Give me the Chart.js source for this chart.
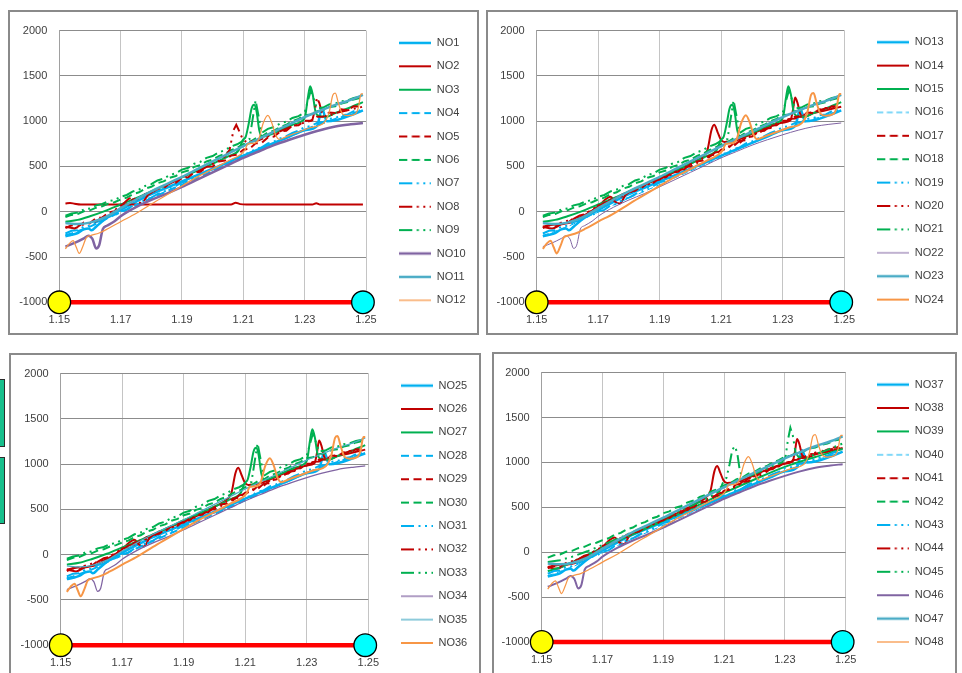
<!DOCTYPE html>
<html>
<head>
<meta charset="utf-8">
<script src="https://cdn.jsdelivr.net/npm/chart.js@4.4.1/dist/chart.umd.min.js"></script>
<style>
  html, body { margin: 0; padding: 0; background: #fff; width: 962px; height: 673px; overflow: hidden; position: relative; }
  .frame { position: absolute; border: 2px solid #8a8a8a; box-sizing: border-box; background: #fff; }
  canvas { position: absolute; }
  .tab { position: absolute; left: -3px; width: 8px; background: #17bf8c; border: 1px solid #2b2b2b; box-sizing: border-box; }
</style>
</head>
<body>
<div class="tab" style="top:379px;height:68px"></div>
<div class="tab" style="top:457px;height:67px"></div>

<div class="frame" style="left:8px;top:10px;width:471px;height:325px"></div>
<div class="frame" style="left:486px;top:10px;width:472px;height:325px"></div>
<div class="frame" style="left:9px;top:353px;width:472px;height:330px"></div>
<div class="frame" style="left:492px;top:352px;width:465px;height:330px"></div>

<canvas id="c1" width="467" height="320" style="left:10px;top:12px"></canvas>
<canvas id="c2" width="467" height="321" style="left:488px;top:12px"></canvas>
<canvas id="c3" width="468" height="318" style="left:11px;top:355px"></canvas>
<canvas id="c4" width="461" height="319" style="left:494px;top:354px"></canvas>

<script>
// ---- axis ticks ----
const xTicks = [1.15, 1.17, 1.19, 1.21, 1.23, 1.25];
const yTicks = [-1000, -500, 0, 500, 1000, 1500, 2000];

// ---- shared sampling grid for the noisy traces ----
const xGrid = [1.152, 1.154, 1.156, 1.158, 1.160, 1.162, 1.164, 1.166, 1.168, 1.170,
               1.172, 1.174, 1.176, 1.178, 1.180, 1.182, 1.184, 1.186, 1.188, 1.190,
               1.192, 1.194, 1.196, 1.198, 1.200, 1.202, 1.204, 1.206, 1.208, 1.210,
               1.212, 1.214, 1.216, 1.218, 1.220, 1.222, 1.224, 1.226, 1.228, 1.230,
               1.232, 1.234, 1.236, 1.238, 1.240, 1.242, 1.244, 1.246, 1.248];

// ---- traces sampled on xGrid ----
const greenDotVals = [-45, -20, -10, 25, 35, 70, 85, 115, 130, 165, 185, 225, 245, 285, 305, 345, 365, 405, 425, 465,
                      485, 530, 550, 595, 615, 655, 680, 720, 745, 785, 800, 1230, 870, 915, 935, 975, 995, 1035, 1055, 1095,
                      1340, 1140, 1150, 1185, 1195, 1220, 1230, 1255, 1270];
const greenDashVals = [-60, -35, -25, 5, 15, 45, 60, 90, 105, 135, 155, 195, 215, 255, 275, 315, 335, 375, 395, 435,
                       455, 495, 515, 555, 575, 615, 640, 680, 705, 745, 765, 810, 830, 875, 895, 935, 960, 1000, 1025, 1065,
                       1075, 1110, 1120, 1155, 1165, 1195, 1210, 1240, 1255];
const redDashVals = [-180, -150, -165, -120, -125, -70, -65, -10, 5, 70, 80, 135, 140, 195, 200, 255, 260, 315, 320, 375,
                     380, 435, 440, 495, 500, 555, 565, 620, 630, 685, 695, 755, 760, 820, 830, 885, 895, 950, 955, 1005,
                     1005, 1050, 1050, 1095, 1090, 1130, 1120, 1165, 1160];
const redDotVals = [-165, -150, -140, -125, -100, -80, -40, -25, 30, 55, 100, 115, 160, 170, 220, 230, 280, 295, 340, 355,
                    400, 410, 465, 470, 525, 535, 590, 600, 655, 665, 720, 725, 785, 790, 850, 860, 915, 925, 975, 985,
                    1025, 1030, 1070, 1075, 1110, 1110, 1145, 1150, 1180];
const blueDotVals = [-240, -210, -205, -165, -155, -115, -100, -55, -40, 5, 20, 70, 85, 135, 155, 195, 220, 260, 285, 325,
                     340, 385, 400, 445, 465, 505, 530, 570, 595, 635, 650, 695, 710, 755, 775, 810, 835, 870, 895, 935,
                     945, 980, 990, 1025, 1035, 1065, 1075, 1110, 1120];
const blueDashVals = [-260, -240, -215, -190, -165, -135, -100, -65, -35, -5, 25, 60, 90, 120, 150, 180, 210, 240, 270, 300,
                      330, 360, 390, 420, 450, 480, 510, 540, 570, 600, 630, 665, 695, 725, 755, 785, 815, 845, 875, 905,
                      930, 955, 980, 1000, 1025, 1045, 1065, 1090, 1110];

// ---- smooth traces, [x, y] pairs ----
const blueSolid = [[1.152,-270],[1.154,-255],[1.156,-235],[1.158,-195],[1.1595,-185],[1.1605,-205],[1.162,-165],[1.165,-80],
  [1.170,20],[1.175,110],[1.180,195],[1.185,265],[1.190,335],[1.195,405],[1.200,475],[1.205,545],[1.210,620],[1.215,690],
  [1.220,760],[1.225,830],[1.230,900],[1.234,945],[1.2357,1135],[1.2372,1000],[1.240,1010],[1.245,1065],[1.249,1120]];
const redFlat = [[1.152,90],[1.1535,97],[1.155,88],[1.157,80],[1.206,80],[1.2075,100],[1.209,84],[1.211,80],
  [1.2325,80],[1.2338,95],[1.235,80],[1.249,80]];
const redPeak = [[1.152,-165],[1.155,-185],[1.158,-140],[1.161,-120],[1.165,-50],[1.170,60],[1.1725,140],[1.174,165],
  [1.1755,110],[1.177,90],[1.179,190],[1.182,250],[1.186,310],[1.190,370],[1.195,440],[1.200,530],[1.204,610],[1.2055,680],
  [1.2068,900],[1.2077,960],[1.2088,880],[1.2098,800],[1.211,770],[1.215,790],[1.220,860],[1.225,930],[1.230,985],
  [1.2325,1010],[1.2333,1120],[1.2340,1260],[1.2348,1200],[1.2358,1070],[1.2372,1050],[1.240,1090],[1.244,1120],[1.249,1160]];
const greenPeak = [[1.152,-110],[1.156,-90],[1.160,-50],[1.165,10],[1.170,80],[1.175,150],[1.180,225],[1.185,300],
  [1.190,380],[1.195,455],[1.200,530],[1.205,610],[1.2085,680],[1.2098,790],[1.2108,830],[1.2118,980],[1.2127,1140],
  [1.2135,1180],[1.2143,1110],[1.2152,900],[1.2162,830],[1.218,840],[1.222,900],[1.226,960],[1.229,1000],[1.2302,1060],
  [1.2310,1250],[1.2318,1385],[1.2326,1300],[1.2335,1110],[1.2345,1060],[1.237,1050],[1.240,1090],[1.244,1140],[1.249,1210]];
const greenPlain = [[1.152,-210],[1.156,-170],[1.160,-110],[1.165,-30],[1.170,50],[1.180,200],[1.190,350],[1.200,500],
  [1.210,660],[1.220,810],[1.230,950],[1.240,1060],[1.249,1150]];
const teal = [[1.152,-125],[1.156,-135],[1.160,-120],[1.165,-60],[1.170,40],[1.175,135],[1.180,225],[1.185,305],
  [1.190,385],[1.195,470],[1.200,555],[1.205,640],[1.210,725],[1.215,805],[1.220,885],[1.225,965],[1.230,1045],
  [1.235,1115],[1.240,1180],[1.245,1235],[1.249,1290]];
const purple = [[1.152,-385],[1.155,-345],[1.158,-295],[1.1595,-265],[1.1608,-300],[1.1620,-405],[1.1630,-370],
  [1.1642,-190],[1.1655,-155],[1.168,-105],[1.170,-50],[1.175,50],[1.180,130],[1.185,200],[1.190,275],[1.195,355],
  [1.200,435],[1.205,515],[1.210,595],[1.215,665],[1.220,735],[1.225,795],[1.230,850],[1.235,900],[1.240,940],
  [1.245,965],[1.249,980]];
const orange = [[1.152,-410],[1.1533,-350],[1.1545,-320],[1.1555,-390],[1.1565,-460],[1.1577,-380],[1.1588,-285],
  [1.160,-265],[1.163,-235],[1.166,-185],[1.170,-110],[1.175,-20],[1.180,85],[1.185,185],[1.190,285],[1.195,385],
  [1.200,470],[1.205,560],[1.209,630],[1.2105,680],[1.2115,750],[1.2135,755],[1.2150,800],[1.2165,980],[1.2180,1065],
  [1.2193,980],[1.2205,850],[1.2217,800],[1.224,830],[1.228,880],[1.232,930],[1.2365,990],[1.2380,1100],[1.2392,1290],
  [1.2400,1310],[1.2410,1200],[1.2423,1080],[1.2440,1060],[1.2465,1080],[1.2475,1150],[1.2484,1300],[1.249,1300]];

// ---- red baseline with its two end markers ----
const baseX = [1.15, 1.249];
const baseY = [-1000, -1000];

// ---- legend labels per chart ----
const labelsA = ['NO1','NO2','NO3','NO4','NO5','NO6','NO7','NO8','NO9','NO10','NO11','NO12'];
const labelsB = ['NO13','NO14','NO15','NO16','NO17','NO18','NO19','NO20','NO21','NO22','NO23','NO24'];
const labelsC = ['NO25','NO26','NO27','NO28','NO29','NO30','NO31','NO32','NO33','NO34','NO35','NO36'];
const labelsD = ['NO37','NO38','NO39','NO40','NO41','NO42','NO43','NO44','NO45','NO46','NO47','NO48'];

// ---- line widths per chart ----
const widthsA = [2.5, 2, 2, 2, 2, 2, 2, 2, 2, 2.5, 2.5, 1.25];
const widthsB = [2.5, 2, 2, 1, 2, 2, 2, 2, 2, 1, 2.5, 2];
const widthsC = [2.5, 2, 2, 2, 2, 2, 2, 2, 2, 1.25, 1.25, 2];
const widthsD = [2.5, 2, 2, 1, 2, 2, 2, 2, 2, 2, 2.5, 1.25];

// ---- helpers ----
const gridPts = vals => vals.map((v, i) => ({ x: xGrid[i], y: v }));
const pairPts = arr => arr.map(p => ({ x: p[0], y: p[1] }));

const greenDot = gridPts(greenDotVals), greenDash = gridPts(greenDashVals);
const redDash = gridPts(redDashVals), redDot = gridPts(redDotVals);
const blueDot = gridPts(blueDotVals), blueDash = gridPts(blueDashVals);

const seriesA = [pairPts(blueSolid), pairPts(redFlat), pairPts(greenPeak), blueDash, redDash, greenDash,
                 blueDot, pairPts(redPeak), greenDot, pairPts(purple), pairPts(teal), pairPts(orange)];
const seriesStd = [pairPts(blueSolid), pairPts(redPeak), pairPts(greenPeak), blueDash, redDash, greenDash,
                   blueDot, redDot, greenDot, pairPts(purple), pairPts(teal), pairPts(orange)];
const seriesD = [pairPts(blueSolid), pairPts(redPeak), pairPts(greenPlain), blueDash, redDash, greenDash,
                 blueDot, redDot, pairPts(greenPeak), pairPts(purple), pairPts(teal), pairPts(orange)];

const BLUE = '#00B0F0', RED = '#C00000', GREEN = '#00B050', PURPLE = '#8064A2', TEAL = '#4BACC6', ORANGE = '#F79646';
const slotColors = [BLUE, RED, GREEN, BLUE, RED, GREEN, BLUE, RED, GREEN, PURPLE, TEAL, ORANGE];
const DASH = [8, 4.5], THIN_DASH = [6, 3.5], DASH_DOT_DOT = [13, 4.5, 2, 4.5, 2, 4.5];
const slotDash = [[], [], [], DASH, DASH, DASH, DASH_DOT_DOT, DASH_DOT_DOT, DASH_DOT_DOT, [], [], []];
const smoothSlot = [true, true, true, false, false, false, false, false, false, true, true, true];

Chart.defaults.font.family = "'Liberation Sans', Arial, sans-serif";
Chart.defaults.font.size = 11;
Chart.defaults.color = '#404040';

// small line sample used as the legend symbol, so dash patterns show in the key
function swatch(color, width, dash) {
  const c = document.createElement('canvas');
  c.width = 32; c.height = 8;
  const ctx = c.getContext('2d');
  ctx.strokeStyle = color;
  ctx.lineWidth = width;
  ctx.setLineDash(dash);
  ctx.beginPath();
  ctx.moveTo(0, 4);
  ctx.lineTo(32, 4);
  ctx.stroke();
  return c;
}

function build(id, labels, series, widths, g) {
  const legendLeft = g.LX - 12.4;
  const dashes = series.map((s, i) => (widths[i] <= 1 && slotDash[i].length) ? THIN_DASH : slotDash[i]);
  const swatches = series.map((s, i) => swatch(slotColors[i], widths[i], dashes[i]));
  const datasets = series.map((pts, i) => ({
    label: labels[i],
    data: pts,
    borderColor: slotColors[i],
    backgroundColor: slotColors[i],
    borderWidth: widths[i],
    borderDash: dashes[i],
    pointRadius: 0,
    cubicInterpolationMode: smoothSlot[i] ? 'monotone' : 'default',
    tension: smoothSlot[i] ? 0.4 : 0,
    order: 13 - i,
    fill: false
  }));
  datasets.push({
    label: 'base',
    data: baseX.map((x, i) => ({ x: x, y: baseY[i] })),
    borderColor: '#FF0000',
    borderWidth: 4.5,
    pointRadius: 11.3,
    pointHoverRadius: 11.3,
    pointBackgroundColor: ['#FFFF00', '#00FFFF'],
    pointBorderColor: '#000000',
    pointBorderWidth: 1.3,
    clip: false,
    order: 0
  });

  new Chart(document.getElementById(id), {
    type: 'line',
    data: { datasets },
    options: {
      responsive: false,
      animation: false,
      events: [],
      layout: { padding: { top: g.T, left: 0, bottom: 0, right: g.W - 80 - legendLeft } },
      scales: {
        x: {
          type: 'linear', min: 1.15, max: 1.25,
          afterBuildTicks: s => { s.ticks = xTicks.map(v => ({ value: v })); },
          afterFit: s => { s.height = g.H - g.B; },
          ticks: { callback: v => v.toFixed(2), padding: 11, maxRotation: 0, autoSkip: false, color: '#404040' },
          grid: { color: '#C4C4C4', lineWidth: 1, drawTicks: false },
          border: { display: true, color: '#A0A0A0' }
        },
        y: {
          type: 'linear', min: -1000, max: 2000,
          afterBuildTicks: s => { s.ticks = yTicks.map(v => ({ value: v })); },
          afterFit: s => { s.width = g.L; },
          ticks: { callback: v => String(v), padding: 12, color: '#404040' },
          grid: { color: '#8C8C8C', lineWidth: 1, drawTicks: false },
          border: { display: true, color: '#A0A0A0' }
        },
        gap: {
          type: 'linear', position: 'right', display: true,
          ticks: { display: false }, grid: { display: false }, border: { display: false },
          afterFit: s => { s.width = legendLeft - g.R; }
        }
      },
      plugins: {
        tooltip: { enabled: false },
        legend: {
          position: 'right',
          align: 'start',
          maxWidth: 80,
          labels: {
            usePointStyle: true,
            pointStyleWidth: 32,
            boxHeight: 11,
            padding: 12.4,
            color: '#404040',
            font: { size: 11 },
            generateLabels: chart => Chart.defaults.plugins.legend.labels.generateLabels(chart)
              .filter(item => item.text !== 'base')
              .map(item => Object.assign(item, { pointStyle: swatches[item.datasetIndex] })),
            sort: (a, b) => a.datasetIndex - b.datasetIndex
          }
        }
      }
    }
  });
}

build('c1', labelsA, seriesA, widthsA, { W: 467, H: 320, L: 49.3, T: 13, R: 356, B: 290.3, LX: 389.3 });
build('c2', labelsB, seriesStd, widthsB, { W: 467, H: 321, L: 48.7, T: 12.3, R: 356.3, B: 290.3, LX: 389.3 });
build('c3', labelsC, seriesStd, widthsC, { W: 468, H: 318, L: 49.7, T: 12.7, R: 357.3, B: 290.2, LX: 390 });
build('c4', labelsD, seriesD, widthsD, { W: 461, H: 319, L: 47.7, T: 12.7, R: 351.7, B: 288, LX: 383.3 });
</script>
</body>
</html>
